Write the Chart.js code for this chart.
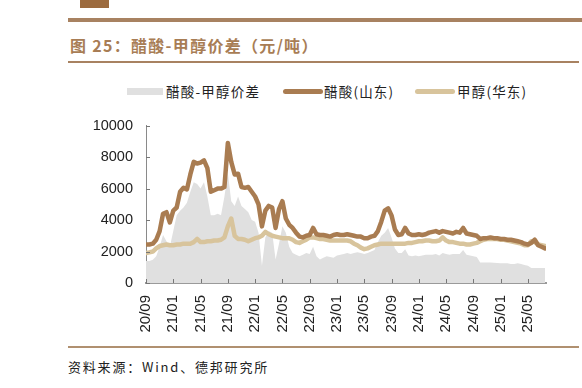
<!DOCTYPE html>
<html lang="zh">
<head>
    <meta charset="UTF-8">
    <title>醋酸-甲醇价差</title>
    <script src="https://cdn.jsdelivr.net/npm/chart.js"></script>
    <style>
        body { margin: 0; width: 582px; height: 388px; background: #fff; position: relative; overflow: hidden;
               font-family: "Noto Sans CJK SC", "Liberation Sans", sans-serif; }
        .abs { position: absolute; }
        .logo { left: 80px; top: 0; width: 29px; height: 8px; background: #9c6b3f; }
        .rule-top { left: 68px; top: 18px; width: 514px; height: 4px; background: #a88261; }
        .title { left: 70px; top: 33px; font-size: 16px; font-weight: bold; color: #a87d55; letter-spacing: 1.3px; white-space: nowrap; }
        .rule-mid { left: 68px; top: 61px; width: 511px; height: 2px; background: #a88261; }
        .rule-bot { left: 68px; top: 346px; width: 511px; height: 2px; background: #b09070; }
        .source { left: 68px; top: 357px; font-size: 13px; color: #222; letter-spacing: 1.8px; white-space: nowrap; }
        .lg-text { font-size: 13.5px; color: #222; top: 81px; white-space: nowrap; letter-spacing: 1.2px; }
        .chart-box { left: 90px; top: 104px; width: 470px; height: 241px; }
    </style>
</head>
<body>
    <div class="abs logo"></div>
    <div class="abs rule-top"></div>
    <div class="abs title">图 25：醋酸-甲醇价差（元/吨）</div>
    <div class="abs rule-mid"></div>

    <!-- legend -->
    <div class="abs" style="left:127px;top:88px;width:36px;height:7px;background:#e0e0e0;"></div>
    <div class="abs lg-text" style="left:166px;">醋酸-甲醇价差</div>
    <div class="abs" style="left:283px;top:89px;width:40px;height:5px;border-radius:3px;background:#a97c51;"></div>
    <div class="abs lg-text" style="left:324px;">醋酸(山东)</div>
    <div class="abs" style="left:415px;top:89px;width:40px;height:5px;border-radius:3px;background:#d8c49c;"></div>
    <div class="abs lg-text" style="left:457px;">甲醇(华东)</div>

    <div class="abs chart-box"><canvas id="spreadChart"></canvas></div>

    <div class="abs rule-bot"></div>
    <div class="abs source">资料来源：Wind、德邦研究所</div>

    <script>
        // x ticks every 4 months starting at 2020/09
        const tickLabels = ['20/09', '21/01', '21/05', '21/09', '22/01', '22/05', '22/09', '23/01',
                            '23/05', '23/09', '24/01', '24/05', '24/09', '25/01', '25/05'];

        // half-month samples from 2020/09, values in 元/吨
        const acetic = [
            2450, 2450, 2500, 2750, 3300, 4400, 4500, 3850, 4600, 4800,
            5800, 6050, 5950, 6900, 7700, 7600, 7650, 7800, 7300, 5800,
            5900, 6000, 6000, 6100, 8900, 7700, 6900, 6950, 6100, 6050,
            6100, 5800, 5500, 5000, 3600, 4600, 4900, 4800, 3500, 4700,
            5200, 4100, 3700, 3500, 3200, 2950, 2900, 3000, 3050, 3500,
            3100, 3050, 3050, 3000, 2950, 3050, 3100, 3050, 3050, 3100,
            3050, 3000, 2950, 2950, 2850, 2850, 2950, 3000, 3300, 3900,
            4600, 4750, 4300, 3400, 3050, 3100, 3500, 3150, 3050, 3050,
            3100, 3050, 3100, 3200, 3250, 3300, 3200, 3300, 3250, 3200,
            3150, 3250, 3200, 3500, 3150, 3100, 3050, 3000, 2800, 2850,
            2850, 2900, 2850, 2850, 2800, 2800, 2750, 2750, 2700, 2650,
            2600, 2500, 2450, 2550, 2750, 2400, 2300, 2200
        ];
        const methanol = [
            1900, 1950, 2000, 2200, 2350, 2400, 2450, 2400, 2400, 2450,
            2450, 2500, 2500, 2500, 2600, 2800, 2600, 2600, 2650, 2650,
            2700, 2700, 2750, 2900, 3600, 4100, 3000, 2800, 2800, 2750,
            2650, 2750, 2850, 2900, 3000, 3250, 3100, 3000, 2950, 2900,
            2850, 2850, 2850, 2750, 2600, 2550, 2650, 2750, 2900, 2900,
            2850, 2800, 2800, 2750, 2700, 2700, 2700, 2700, 2700, 2700,
            2650, 2500, 2400, 2250, 2150, 2200, 2300, 2400, 2450, 2500,
            2500, 2500, 2500, 2500, 2500, 2500, 2500, 2550, 2550, 2600,
            2650, 2650, 2700, 2700, 2650, 2650, 2700, 2900, 2700, 2600,
            2600, 2550, 2500, 2500, 2450, 2450, 2500, 2550, 2650, 2750,
            2800, 2800, 2800, 2800, 2750, 2750, 2700, 2650, 2600, 2550,
            2500, 2400, 2400, 2650, 2600, 2450, 2400, 2350
        ];
        const spread = [
            1400, 1400, 1480, 1700, 2300, 3050, 2650, 2300, 3300, 4300,
            4600, 4800, 5100, 5800, 6400, 6300, 6000, 6400, 5500, 4300,
            4300, 4400, 4300, 5500, 7000, 5200, 4900, 5500, 4900, 4700,
            4500, 4000, 3900, 3200, 1100, 2900, 3300, 3200, 1500, 2500,
            3600, 3200, 2300, 1900, 1800, 1700, 1800, 1900, 1850, 2300,
            1700, 1500, 1600, 1700, 1650, 1600, 1750, 1800, 1850, 1900,
            1850, 1900, 1950, 1900, 1850, 1900, 2000, 2100, 2600, 3000,
            3200, 3500, 2900, 2200, 1900, 1900, 2150, 1750, 1700, 1750,
            1700, 1750, 1800, 1800, 1800, 1850, 1750, 1900, 1850, 1800,
            1850, 1850, 1850, 2100, 1800, 1750, 1700, 1650, 1300, 1300,
            1300, 1300, 1280, 1270, 1250, 1250, 1250, 1200, 1200, 1250,
            1200, 1150, 1100, 950, 950, 950, 950, 950
        ];

        // month offset of each sample (0 = 2020/09)
        const monthPos = spread.map((_, i) => i * 0.5);
        const toPoints = arr => arr.map((v, i) => ({ x: monthPos[i], y: v }));

        // small tick marks pointing into the plot, like the original
        const innerTicks = {
            id: 'innerTicks',
            afterDatasetsDraw(chart) {
                const { ctx, chartArea, scales } = chart;
                ctx.save();
                ctx.strokeStyle = '#777';
                ctx.lineWidth = 1;
                ctx.beginPath();
                scales.x.ticks.forEach(t => {
                    const px = Math.round(scales.x.getPixelForValue(t.value)) + 0.5;
                    ctx.moveTo(px, chartArea.bottom);
                    ctx.lineTo(px, chartArea.bottom - 4);
                });
                scales.y.ticks.forEach(t => {
                    const py = Math.round(scales.y.getPixelForValue(t.value)) + 0.5;
                    ctx.moveTo(chartArea.left, py);
                    ctx.lineTo(chartArea.left + 4, py);
                });
                ctx.stroke();
                ctx.restore();
            }
        };

        new Chart(document.getElementById('spreadChart'), {
            type: 'line',
            data: {
                datasets: [
                    {
                        label: '醋酸(山东)',
                        data: toPoints(acetic),
                        borderColor: '#a97c51',
                        borderWidth: 4.5,
                        borderJoinStyle: 'round',
                        borderCapStyle: 'round',
                        pointRadius: 0,
                        tension: 0,
                        order: 1
                    },
                    {
                        label: '甲醇(华东)',
                        data: toPoints(methanol),
                        borderColor: '#d8c49c',
                        borderWidth: 4.5,
                        borderJoinStyle: 'round',
                        borderCapStyle: 'round',
                        pointRadius: 0,
                        tension: 0,
                        order: 2
                    },
                    {
                        label: '醋酸-甲醇价差',
                        data: toPoints(spread),
                        borderWidth: 0,
                        backgroundColor: '#e0e0e0',
                        fill: 'origin',
                        pointRadius: 0,
                        tension: 0,
                        order: 3
                    }
                ]
            },
            options: {
                responsive: true,
                maintainAspectRatio: false,
                animation: false,
                layout: { padding: { top: 6, right: 14, left: 0, bottom: 0 } },
                plugins: {
                    legend: { display: false },
                    tooltip: { enabled: false }
                },
                scales: {
                    x: {
                        type: 'linear',
                        min: 0,
                        max: 58.65,
                        afterFit: s => { s.height = 62; },
                        afterBuildTicks: s => { s.ticks = tickLabels.map((_, i) => ({ value: i * 4 })); },
                        grid: { display: false, drawTicks: false },
                        border: { display: true, color: '#9a9a9a', width: 2 },
                        ticks: {
                            autoSkip: false,
                            minRotation: 90,
                            maxRotation: 90,
                            padding: 12,
                            color: '#222',
                            font: { family: 'Liberation Sans', size: 15 },
                            callback: v => tickLabels[Math.round(v / 4)]
                        }
                    },
                    y: {
                        min: 0,
                        max: 10000,
                        afterFit: s => { s.width = 56; },
                        grid: { display: false, drawTicks: false },
                        border: { display: true, color: '#8a8a8a', width: 1 },
                        ticks: {
                            stepSize: 2000,
                            padding: 13,
                            color: '#222',
                            font: { family: 'Liberation Sans', size: 14.5 },
                            callback: v => String(v)
                        }
                    }
                }
            },
            plugins: [innerTicks]
        });
    </script>
</body>
</html>
